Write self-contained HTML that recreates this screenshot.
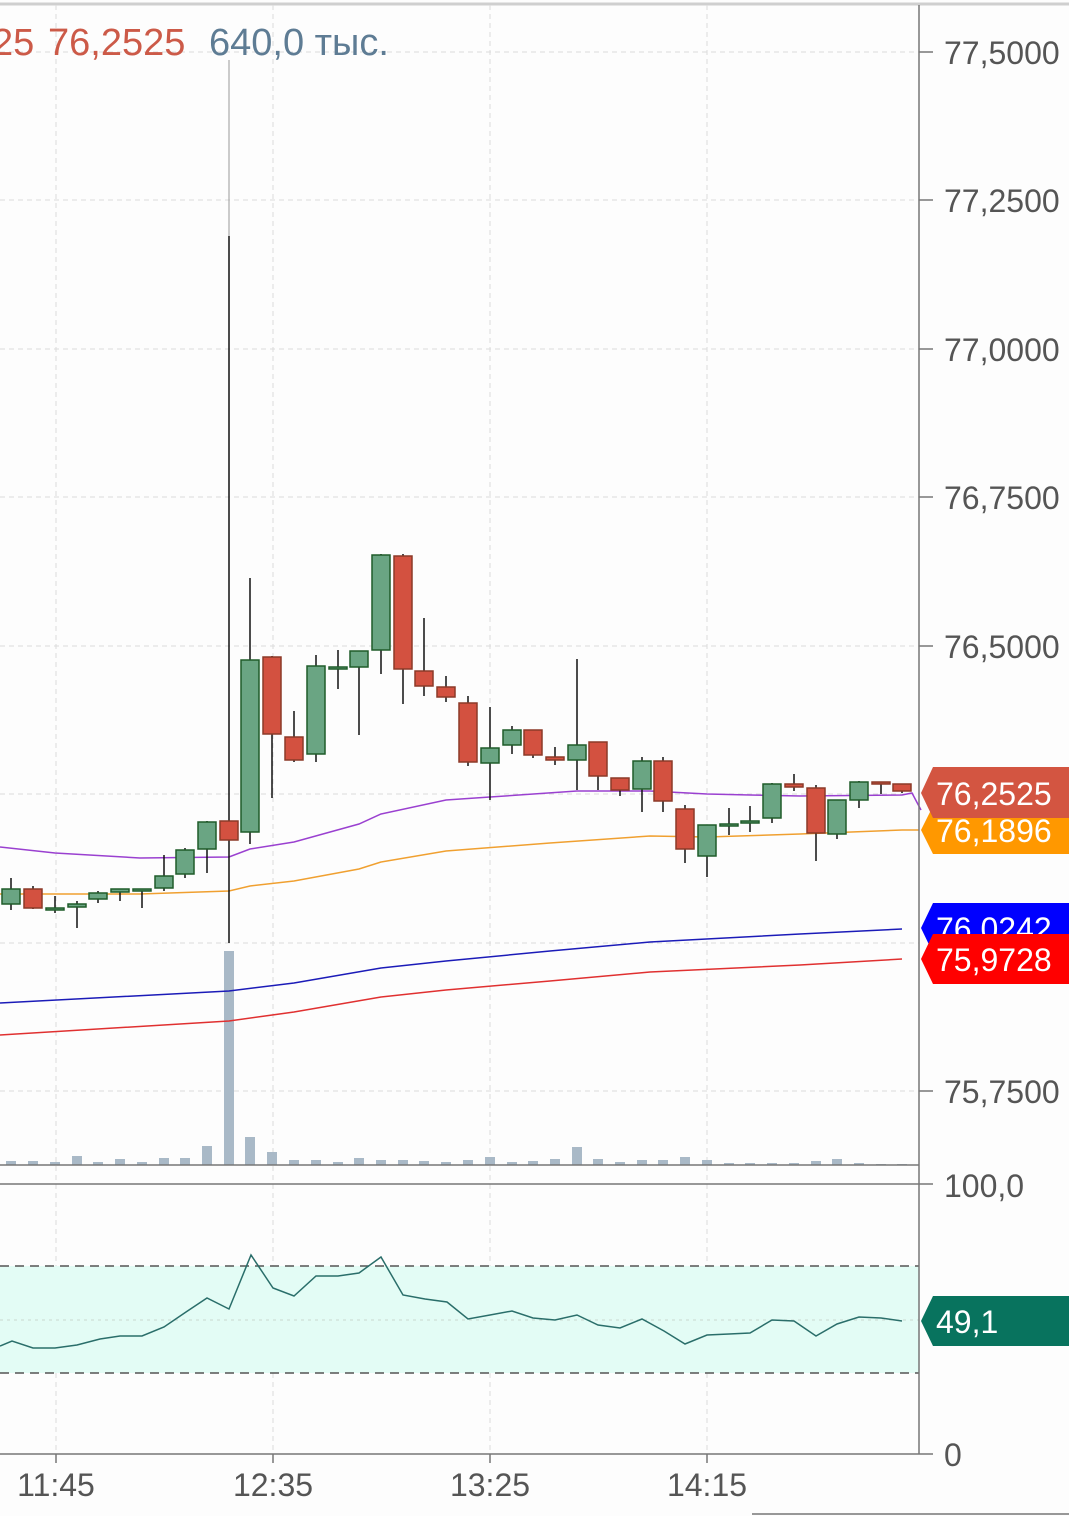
<!DOCTYPE html>
<html><head><meta charset="utf-8"><style>
html,body{margin:0;padding:0;background:#fdfdfd;}
svg{display:block;font-family:"Liberation Sans",sans-serif;}
</style></head><body>
<svg id="s" width="1069" height="1516" viewBox="0 0 1069 1516" xmlns="http://www.w3.org/2000/svg">
<rect width="1069" height="1516" fill="#fdfdfd"/>
<line x1="0" y1="4" x2="1069" y2="4" stroke="#cfcfcf" stroke-width="3"/>
<g stroke="#dcdcdc" stroke-width="1" stroke-dasharray="5,4">
<line x1="0" y1="52" x2="919" y2="52"/><line x1="0" y1="200" x2="919" y2="200"/>
<line x1="0" y1="349" x2="919" y2="349"/><line x1="0" y1="497" x2="919" y2="497"/>
<line x1="0" y1="646" x2="919" y2="646"/><line x1="0" y1="794" x2="919" y2="794"/>
<line x1="0" y1="943" x2="919" y2="943"/><line x1="0" y1="1091" x2="919" y2="1091"/>
<line x1="56" y1="5" x2="56" y2="1454"/><line x1="273" y1="5" x2="273" y2="1454"/>
<line x1="490" y1="5" x2="490" y2="1454"/><line x1="707" y1="5" x2="707" y2="1454"/>
</g>
<rect x="0" y="1266" width="919" height="107" fill="#e3fcf5"/>
<line x1="0" y1="1320" x2="919" y2="1320" stroke="#c8d8d0" stroke-dasharray="3,4"/>
<line x1="0" y1="1266" x2="919" y2="1266" stroke="#555" stroke-width="1.5" stroke-dasharray="9,6"/>
<line x1="0" y1="1373" x2="919" y2="1373" stroke="#555" stroke-width="1.5" stroke-dasharray="9,6"/>
<g id="vol" fill="#a9b9c7"></g>
<polyline fill="none" stroke="#1b1bb8" stroke-width="1.5" points="0,1003 229,991 294,983 381,968 446,961 550,951 650,942 800,934 902,929"/>
<polyline fill="none" stroke="#e03030" stroke-width="1.5" points="0,1035 229,1021 294,1012 381,997 446,990 550,981 650,972 800,965 902,959"/>
<polyline fill="none" stroke="#f0a030" stroke-width="1.5" points="0,894 140,894 229,891 250,886 294,881 359,869 381,862 446,851 550,843 650,836 707,837 800,834 902,830 919,830"/>
<polyline fill="none" stroke="#9a40d0" stroke-width="1.5" points="0,847 55,853 140,858 229,857 250,849 294,842 359,824 381,814 446,800 490,797 577,791 650,791 707,794 750,795 800,796 902,795 912,793 921,810"/>
<line x1="229" y1="60" x2="229" y2="236" stroke="#999" stroke-width="1"/>
<g id="cd"></g>
<polyline id="rsi" fill="none" stroke="#2a6e6a" stroke-width="1.5"/>
<line x1="0" y1="1165" x2="919" y2="1165" stroke="#777" stroke-width="1.5"/>
<line x1="0" y1="1184" x2="933" y2="1184" stroke="#777" stroke-width="1.5"/>
<line x1="0" y1="1454" x2="933" y2="1454" stroke="#777" stroke-width="1.5"/>
<line x1="919" y1="5" x2="919" y2="1454" stroke="#777" stroke-width="1.5"/>
<g stroke="#777" stroke-width="1.5">
<line x1="919" y1="52" x2="933" y2="52"/><line x1="919" y1="200" x2="933" y2="200"/>
<line x1="919" y1="349" x2="933" y2="349"/><line x1="919" y1="497" x2="933" y2="497"/>
<line x1="919" y1="646" x2="933" y2="646"/><line x1="919" y1="1091" x2="933" y2="1091"/>
<line x1="56" y1="1454" x2="56" y2="1463"/><line x1="273" y1="1454" x2="273" y2="1463"/>
<line x1="490" y1="1454" x2="490" y2="1463"/><line x1="707" y1="1454" x2="707" y2="1463"/>
</g>
<line x1="752" y1="1514" x2="1069" y2="1514" stroke="#777" stroke-width="1.5"/>
<g fill="#555" font-size="32">
<text x="944" y="64">77,5000</text><text x="944" y="212">77,2500</text>
<text x="944" y="361">77,0000</text><text x="944" y="509">76,7500</text>
<text x="944" y="658">76,5000</text><text x="944" y="1103">75,7500</text>
<text x="944" y="1197">100,0</text><text x="944" y="1466">0</text>
<text x="56" y="1496" text-anchor="middle">11:45</text><text x="273" y="1496" text-anchor="middle">12:35</text>
<text x="490" y="1496" text-anchor="middle">13:25</text><text x="707" y="1496" text-anchor="middle">14:15</text>
</g>
<g font-size="38"><text x="-8" y="55" fill="#cc5a48">25</text><text x="48" y="55" fill="#cc5a48">76,2525</text>
<text x="209" y="55" fill="#5e7c94">640,0 тыс.</text></g>
<g font-size="32" fill="#fff">
<polygon points="921,928 933,903 1069,903 1069,953 933,953" fill="#0000ff"/>
<text x="936" y="940">76,0242</text>
<polygon points="921,959 933,934 1069,934 1069,984 933,984" fill="#ff0000"/>
<text x="936" y="971">75,9728</text>
<polygon points="921,830 933,806 1069,806 1069,854 933,854" fill="#ff9800"/>
<text x="936" y="842">76,1896</text>
<polygon points="921,793 933,767 1069,767 1069,818 933,818" fill="#d35541"/>
<text x="936" y="805">76,2525</text>
<polygon points="921,1321 933,1296 1069,1296 1069,1346 933,1346" fill="#08735e"/>
<text x="936" y="1333">49,1</text>
</g>
</svg>
<script>
var C=[[11,889,904,878,910,'g'],[33,889,908,886,909,'r'],[55,908,910,896,913,'g'],[77,904,907,901,928,'g'],[98,893,899,891,903,'g'],[120,889,892,889,901,'g'],[142,889,891,890,908,'g'],[164,876,888,855,891,'g'],[185,850,874,848,878,'g'],[207,822,849,821,873,'g'],[229,821,840,236,943,'r'],[250,660,832,578,844,'g'],[272,657,734,656,798,'r'],[294,737,760,711,762,'r'],[316,666,754,655,762,'g'],[338,667,669,650,689,'g'],[359,651,667,651,735,'g'],[381,555,650,554,674,'g'],[403,556,669,554,704,'r'],[424,671,686,618,696,'r'],[446,687,697,676,702,'r'],[468,703,762,696,766,'r'],[490,748,763,707,800,'g'],[512,730,745,726,754,'g'],[533,730,755,730,758,'r'],[555,757,760,747,765,'r'],[577,745,760,659,790,'g'],[598,742,776,742,790,'r'],[620,778,790,778,796,'r'],[642,761,789,757,812,'g'],[663,761,801,757,812,'r'],[685,809,849,805,863,'r'],[707,825,856,825,877,'g'],[729,824,826,808,835,'g'],[750,821,823,806,832,'g'],[772,784,818,783,823,'g'],[794,784,787,774,791,'r'],[816,788,833,785,861,'r'],[837,800,834,800,839,'g'],[859,782,800,781,808,'g'],[881,782,784,783,794,'r'],[902,784,791,784,793,'r']];
var V=[1161,1161,1162,1156,1162,1159,1162,1158,1158,1146,951,1137,1152,1160,1160,1162,1158,1160,1160,1161,1162,1160,1157,1162,1161,1159,1147,1159,1162,1160,1160,1157,1160,1163,1163,1163,1163,1161,1159,1163,1164,1164];
var R="0,1346 12,1341 33,1348 55,1348 77,1345 100,1339 120,1336 142,1336 164,1327 186,1312 207,1298 229,1309 251,1255 273,1288 294,1296 316,1276 338,1276 359,1273 381,1257 403,1295 425,1299 447,1302 468,1319 490,1315 512,1311 533,1318 555,1320 577,1315 598,1325 620,1328 642,1319 664,1331 685,1344 707,1335 729,1334 750,1333 772,1320 794,1321 816,1336 837,1324 859,1317 881,1318 902,1321";
var ns="http://www.w3.org/2000/svg",cd=document.getElementById('cd'),vol=document.getElementById('vol');
function el(p,t,a){var e=document.createElementNS(ns,t);for(var k in a)e.setAttribute(k,a[k]);p.appendChild(e);return e;}
C.forEach(function(c,i){var g=c[5]=='g',f=g?'#6aa583':'#d35140',s=g?'#1f5c2a':'#8b3a28';
el(cd,'line',{x1:c[0],y1:c[3],x2:c[0],y2:c[4],stroke:'#111','stroke-width':1.5});
var h=Math.max(c[2]-c[1],2);el(cd,'rect',{x:c[0]-9,y:c[1],width:18,height:h,fill:f,stroke:s,'stroke-width':1.5});
el(vol,'rect',{x:c[0]-5,y:V[i],width:10,height:1165-V[i]});});
document.getElementById('rsi').setAttribute('points',R);
</script>
</body></html>
